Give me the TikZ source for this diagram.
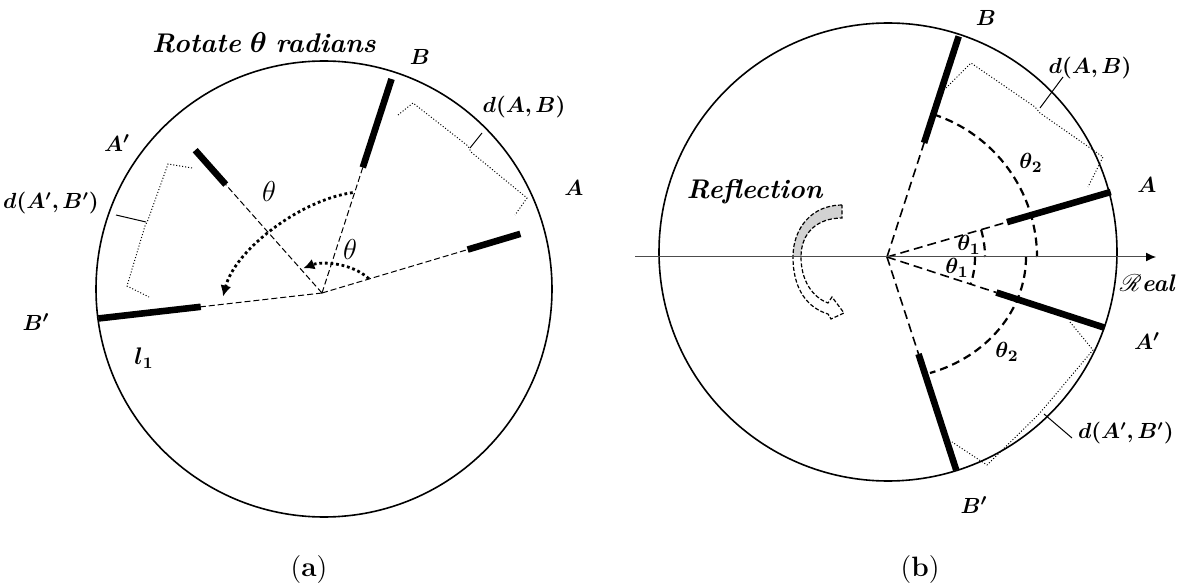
\documentclass[tikz,border=0pt]{standalone}
\usepackage{amsmath, amssymb, bm}
\usepackage{mathrsfs}
\usetikzlibrary{arrows.meta, calc, positioning}

\def\bandpath{(842,380) .. controls (812,380) and (793,357) .. (793,328)
  .. controls (793,295) and (808,277) .. (828,271) -- (831,266) -- (844,272)
  -- (832,288) -- (828,282) .. controls (812,288) and (801,305) .. (801,328)
  .. controls (801,353) and (818,367) .. (842,367) -- cycle}

\begin{document}
\begin{tikzpicture}[x=0.5pt, y=0.5pt,
  rim/.style={line width=0.8pt},
  seg/.style={line width=3.3pt},
  ray/.style={line width=0.5pt, dash pattern=on 3pt off 1.5pt},
  rayb/.style={line width=0.8pt, dash pattern=on 4.5pt off 2.5pt},
  sweep/.style={line width=1.4pt, dash pattern=on 1.4pt off 1.4pt,
                -{Latex[length=5.5pt, width=5.5pt]}},
  angarc/.style={line width=1.1pt, dash pattern=on 4pt off 2.5pt},
  brk/.style={line width=0.5pt, densely dotted},
  notch/.style={line width=0.5pt},
  lbl/.style={font=\fontsize{11}{13}\selectfont, inner sep=1pt},
  dlbl/.style={font=\fontsize{10.5}{12}\selectfont, inner sep=1pt},
  big/.style={font=\fontsize{13.5}{16}\selectfont, inner sep=1pt},
  sub/.style={font=\fontsize{14}{16}\selectfont, inner sep=1pt}]

  \useasboundingbox (0,0) rectangle (1180,585);

  % ---------------- (a) rotation ----------------
  \coordinate (Ca) at (324,296);
  \coordinate (Oa) at (322,292);
  \draw[rim] (Ca) circle[radius=228];

  \coordinate (aA1) at ($(Oa)+(16.6:152)$);
  \coordinate (aA2) at ($(Oa)+(16.6:207)$);
  \coordinate (aB1) at ($(Oa)+(72:132)$);
  \coordinate (aB2) at ($(Oa)+(72:225)$);
  \coordinate (aAp1) at ($(Oa)+(131.6:145)$);
  \coordinate (aAp2) at ($(Oa)+(131.6:191)$);
  \coordinate (aBp1) at ($(Oa)+(186.5:122)$);
  \coordinate (aBp2) at ($(Oa)+(186.5:225)$);

  \draw[ray] (Oa) -- (aA1);
  \draw[ray] (Oa) -- (aB1);
  \draw[ray] (Oa) -- (aAp1);
  \draw[ray] (Oa) -- (aBp1);
  \draw[seg] (aA1) -- (aA2);
  \draw[seg] (aB1) -- (aB2);
  \draw[seg] (aAp1) -- (aAp2);
  \draw[seg] (aBp1) -- (aBp2);

  \coordinate (sw1) at ($(Oa)+(73:105)$);
  \coordinate (sw2) at ($(Oa)+(182:99)$);
  \coordinate (sw3) at ($(Oa)+(17:49)$);
  \coordinate (sw4) at ($(Oa)+(127:31)$);
  \draw[sweep] (sw1) .. controls (300,385) and (235,335) .. (sw2);
  \draw[sweep] (sw3) .. controls (352,322) and (322,324) .. (sw4);

  \node[sub] (tha) at (269,393) {$\theta$};
  \node[sub] (thb) at (350,335) {$\theta$};

  % brackets
  \draw[brk] (398,470) -- (413,482) -- (468,439) -- (471,433) -- (527,387) -- (515,370);
  \draw[notch] (470,437) -- (482,452);
  \draw[brk] (192,417) -- (168,421) -- (148,365) -- (145,359) -- (127,299) -- (149,288);
  \draw[notch] (146,363) -- (116,370);

  \node[big] (rot) at (264,542)
    {\textbf{\textit{Rotate}} $\boldsymbol{\theta}$ \textbf{\textit{radians}}};
  \node[lbl] (la) at (574,397) {$\boldsymbol{A}$};
  \node[lbl] (lb) at (420,528) {$\boldsymbol{B}$};
  \node[lbl] (lap) at (117,442) {$\boldsymbol{A'}$};
  \node[lbl] (lbp) at (36,263) {$\boldsymbol{B'}$};
  \node[dlbl] (dab) at (524,478) {$\boldsymbol{d(A,B)}$};
  \node[dlbl] (dapbp) at (51,382) {$\boldsymbol{d(A',B')}$};
  \node[lbl, font=\fontsize{12}{14}\selectfont] (l1) at (144,227) {$\boldsymbol{l_1}$};
  \node[sub] (capa) at (309,15) {(\textbf{a})};

  % ---------------- (b) reflection ----------------
  \coordinate (Cb) at (888,333);
  \coordinate (Ob) at (887,328);
  \draw[rim] (Cb) circle[radius=229];

  \coordinate (bA1) at ($(Ob)+(16.2:125)$);
  \coordinate (bA2) at ($(Ob)+(16.2:233)$);
  \coordinate (bB1) at ($(Ob)+(72:120)$);
  \coordinate (bB2) at ($(Ob)+(72:232)$);
  \coordinate (bAp1) at ($(Ob)+(-18:115)$);
  \coordinate (bAp2) at ($(Ob)+(-18:229)$);
  \coordinate (bBp1) at ($(Ob)+(-72:102)$);
  \coordinate (bBp2) at ($(Ob)+(-72:224)$);

  \draw[rayb] (Ob) -- (bA1);
  \draw[rayb] (Ob) -- (bB1);
  \draw[rayb] (Ob) -- (bAp1);
  \draw[rayb] (Ob) -- (bBp1);
  \draw[seg] (bA1) -- (bA2);
  \draw[seg] (bB1) -- (bB2);
  \draw[seg] (bAp1) -- (bAp2);
  \draw[seg] (bBp1) -- (bBp2);

  \draw[angarc] ($(Ob)+(72:150)$) arc[start angle=72, end angle=0, radius=150];
  \draw[angarc] ($(Ob)+(0:139)$) arc[start angle=0, end angle=-72, x radius=139, y radius=122];
  \draw[angarc] ($(Ob)+(16.2:98)$) arc[start angle=16.2, end angle=0, radius=98];
  \draw[angarc] ($(Ob)+(0:88)$) arc[start angle=0, end angle=-18, radius=88];

  \node[lbl] (th2u) at (1031,422) {$\boldsymbol{\theta_2}$};
  \node[lbl] (th1u) at (969,340) {$\boldsymbol{\theta_1}$};
  \node[lbl] (th1d) at (957,317) {$\boldsymbol{\theta_1}$};
  \node[lbl] (th2d) at (1007,233) {$\boldsymbol{\theta_2}$};

  % flip arrow
  \fill[white] \bandpath;
  \begin{scope}
    \clip (780,328) rectangle (860,395);
    \fill[gray!35] \bandpath;
  \end{scope}
  \draw[line width=0.6pt, dash pattern=on 2pt off 1pt] \bandpath;

  % real axis
  \coordinate (ax0) at (635,328);
  \coordinate (ax1) at (1156,328);
  \draw[line width=0.5pt, black!70, -{Latex[length=5pt, width=4.5pt, black]}] (ax0) -- (ax1);

  % brackets
  \draw[brk] (946,497) -- (971,522) -- (1035,478) -- (1040,472) -- (1103,428) -- (1088,398);
  \draw[notch] (1040,477) -- (1063,508);
  \draw[brk] (1070,263) -- (1093,235) -- (1045,178) -- (1038,170) -- (987,120) -- (952,143);
  \draw[notch] (1044,171) -- (1072,147);

  \node[big] (refl) at (755,393) {\textbf{\textit{Reflection}}};
  \node[lbl] (ra) at (1147,400) {$\boldsymbol{A}$};
  \node[lbl] (rb) at (986,567) {$\boldsymbol{B}$};
  \node[lbl] (rap) at (1147,244) {$\boldsymbol{A'}$};
  \node[lbl] (rbp) at (974,80) {$\boldsymbol{B'}$};
  \node[dlbl] (rdab) at (1090,517) {$\boldsymbol{d(A,B)}$};
  \node[dlbl, anchor=east] (rdapbp) at (1176,152) {$\boldsymbol{d(A',B')}$};
  \node[lbl, font=\fontsize{12}{14}\selectfont, anchor=east] (real) at (1178,302)
    {$\mathscr{R}$\textbf{\textit{eal}}};
  \node[sub] (capb) at (920,15) {(\textbf{b})};
\end{tikzpicture}
\end{document}
